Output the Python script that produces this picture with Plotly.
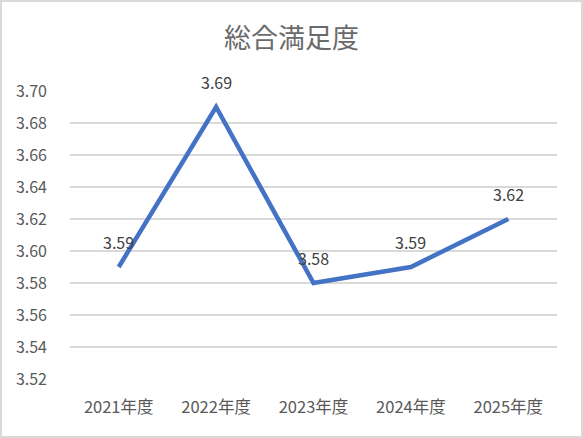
import plotly.graph_objects as go

categories = ["2021年度", "2022年度", "2023年度", "2024年度", "2025年度"]
values = [3.59, 3.69, 3.58, 3.59, 3.62]
labels = ["3.59", "3.69", "3.58", "3.59", "3.62"]
y_ticks = [3.52, 3.54, 3.56, 3.58, 3.60, 3.62, 3.64, 3.66, 3.68, 3.70]
title = "総合満足度"

W, H = 583, 438
L, R, T, B = 70, 26, 91, 59
pw, ph = W - L - R, H - T - B

font = "Noto Sans CJK JP, Noto Sans, sans-serif"

fig = go.Figure()
fig.add_trace(go.Scatter(
    x=categories, y=values, mode="lines",
    line=dict(color="#4472C4", width=4.5),
    hoverinfo="skip",
))
for c, v, t in zip(categories, values, labels):
    fig.add_annotation(x=c, y=v, text=t, showarrow=False, yshift=25,
                       font=dict(family=font, size=16, color="#404040"))

fig.add_shape(type="rect", xref="paper", yref="paper",
              x0=-(L - 1) / pw, x1=1 + (R - 1) / pw,
              y0=-(B - 1) / ph, y1=1 + (T - 1) / ph,
              line=dict(color="#D9D9D9", width=2), layer="below")

fig.update_layout(
    width=W, height=H,
    margin=dict(l=L, r=R, t=T, b=B),
    paper_bgcolor="white", plot_bgcolor="white",
    showlegend=False,
    title=dict(text=title, x=0.5, xanchor="center", xref="container",
               y=1 - 39 / H, yanchor="middle", yref="container",
               font=dict(family=font, size=27, color="#6A6A6A")),
    xaxis=dict(type="category", range=[-0.5, 4.5], showgrid=False,
               showline=False, ticks="", ticklabelstandoff=16,
               tickfont=dict(family=font, size=16.5, color="#595959")),
    yaxis=dict(range=[3.52, 3.70], tickvals=y_ticks,
               ticktext=[f"{v:.2f}" for v in y_ticks],
               showgrid=True, gridcolor="#D9D9D9", gridwidth=1.5,
               zeroline=False, showline=False, ticks="",
               ticklabelstandoff=22,
               tickfont=dict(family=font, size=16, color="#595959")),
)

fig.write_html("out.html", config={"displayModeBar": False},
               post_script="document.body.style.margin='0';document.body.style.padding='0';")
